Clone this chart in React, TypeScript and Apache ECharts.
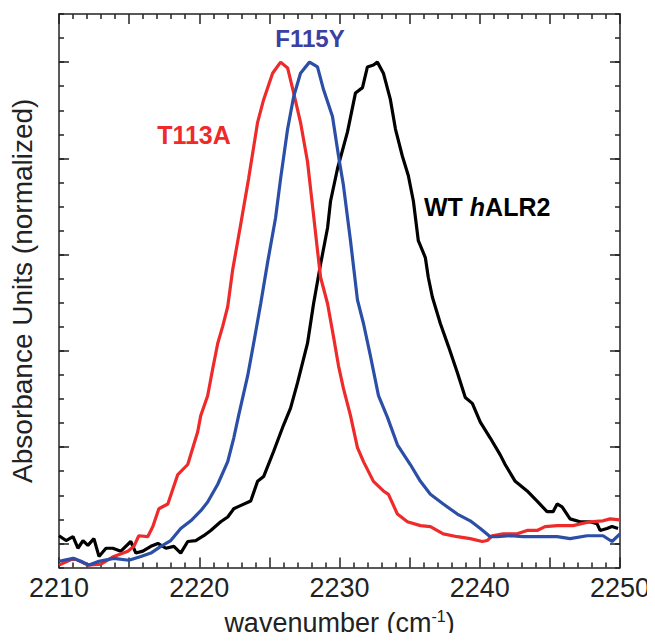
import React, { useEffect, useRef } from "react";
import * as echarts from "echarts";

// ---- Data ----
const xTickLabels = [2210, 2220, 2230, 2240, 2250];
const yMajorTicks = [0, 0.2, 0.4, 0.6, 0.8, 1.0];

const t113aWavenumber = [2210.0, 2211.07, 2212.06, 2212.99, 2213.91, 2214.91, 2215.34, 2215.69, 2216.33, 2216.69, 2217.12, 2217.76, 2218.47, 2219.18, 2219.89, 2220.11, 2220.6, 2220.96, 2221.32, 2221.67, 2222.03, 2222.38, 2222.95, 2223.52, 2224.16, 2224.59, 2225.23, 2225.8, 2226.3, 2226.73, 2227.22, 2227.72, 2228.15, 2228.43, 2228.65, 2229.15, 2229.57, 2229.93, 2230.28, 2230.78, 2231.28, 2231.71, 2232.42, 2233.13, 2233.49, 2234.13, 2234.84, 2235.77, 2236.48, 2237.4, 2238.4, 2239.32, 2240.18, 2240.53, 2240.89, 2241.67, 2242.67, 2243.38, 2244.09, 2244.66, 2245.52, 2246.65, 2247.86, 2248.79, 2249.29, 2250.0];
const t113aAbsorbance = [-0.045, -0.031, -0.045, -0.043, -0.027, -0.016, -0.006, 0.016, 0.014, 0.035, 0.072, 0.082, 0.143, 0.164, 0.232, 0.266, 0.307, 0.363, 0.416, 0.451, 0.492, 0.568, 0.662, 0.758, 0.875, 0.922, 0.977, 1.0, 0.988, 0.936, 0.875, 0.793, 0.682, 0.609, 0.553, 0.498, 0.43, 0.369, 0.322, 0.266, 0.199, 0.17, 0.129, 0.109, 0.102, 0.061, 0.045, 0.037, 0.035, 0.02, 0.014, 0.01, 0.004, 0.006, 0.016, 0.02, 0.02, 0.027, 0.027, 0.035, 0.037, 0.037, 0.045, 0.047, 0.051, 0.049];

const f115yWavenumber = [2210.0, 2211.0, 2211.57, 2212.14, 2212.85, 2213.91, 2214.98, 2215.84, 2216.55, 2217.26, 2217.97, 2218.68, 2219.4, 2220.11, 2220.6, 2221.32, 2222.03, 2222.46, 2222.81, 2223.45, 2223.88, 2224.38, 2224.88, 2225.44, 2225.8, 2226.3, 2226.73, 2227.22, 2227.86, 2228.43, 2228.86, 2229.5, 2229.93, 2230.28, 2230.78, 2231.28, 2231.71, 2232.21, 2232.78, 2233.42, 2234.13, 2235.05, 2235.77, 2236.48, 2237.4, 2238.4, 2239.32, 2240.04, 2240.75, 2241.25, 2242.17, 2243.1, 2244.09, 2245.52, 2246.44, 2247.65, 2248.79, 2249.43, 2250.0];
const f115yAbsorbance = [-0.037, -0.031, -0.037, -0.045, -0.037, -0.031, -0.035, -0.027, -0.02, -0.006, 0.006, 0.031, 0.047, 0.068, 0.086, 0.123, 0.17, 0.219, 0.266, 0.348, 0.416, 0.498, 0.585, 0.676, 0.758, 0.861, 0.928, 0.977, 1.0, 0.99, 0.943, 0.887, 0.805, 0.744, 0.63, 0.506, 0.457, 0.389, 0.307, 0.262, 0.205, 0.164, 0.129, 0.102, 0.082, 0.061, 0.047, 0.031, 0.014, 0.014, 0.016, 0.014, 0.014, 0.014, 0.01, 0.016, 0.016, 0.004, 0.02];

const wtWavenumber = [2210.0, 2210.5, 2211.0, 2211.35, 2211.71, 2212.06, 2212.49, 2212.85, 2213.35, 2213.84, 2214.41, 2215.12, 2215.48, 2215.98, 2216.55, 2217.05, 2217.62, 2218.19, 2218.68, 2219.18, 2219.75, 2220.32, 2220.82, 2221.53, 2222.03, 2222.46, 2222.74, 2223.67, 2224.16, 2224.59, 2225.3, 2226.01, 2226.51, 2227.01, 2227.72, 2228.15, 2228.65, 2229.15, 2229.36, 2229.86, 2230.57, 2231.14, 2231.64, 2231.99, 2232.42, 2232.7, 2233.13, 2233.63, 2233.99, 2234.48, 2234.91, 2235.27, 2235.62, 2236.12, 2236.33, 2236.62, 2237.19, 2237.76, 2238.4, 2238.97, 2239.47, 2240.04, 2240.75, 2241.46, 2241.81, 2242.53, 2243.38, 2244.09, 2244.8, 2245.23, 2245.52, 2245.87, 2246.44, 2247.15, 2247.86, 2248.36, 2248.58, 2249.07, 2249.43, 2249.86];
const wtAbsorbance = [0.016, 0.006, 0.014, -0.01, 0.006, -0.004, 0.01, -0.027, -0.01, -0.01, -0.016, 0.004, -0.02, -0.016, -0.006, 0.0, -0.01, -0.006, -0.02, 0.004, 0.006, 0.016, 0.027, 0.045, 0.055, 0.072, 0.076, 0.088, 0.129, 0.139, 0.191, 0.246, 0.281, 0.334, 0.416, 0.498, 0.58, 0.656, 0.711, 0.779, 0.855, 0.936, 0.947, 0.99, 0.994, 1.0, 0.977, 0.922, 0.861, 0.805, 0.764, 0.711, 0.629, 0.594, 0.553, 0.512, 0.457, 0.41, 0.355, 0.303, 0.291, 0.252, 0.219, 0.184, 0.164, 0.129, 0.109, 0.088, 0.066, 0.066, 0.082, 0.076, 0.051, 0.045, 0.045, 0.041, 0.027, 0.031, 0.035, 0.031];

const seriesNames = ["T113A", "F115Y", "WT hALR2"];

const zip = (xs: number[], ys: number[]) => xs.map((x, i) => [x, ys[i]]);

const RED = "#ee2a2b";
const BLUE = "#2b4ea6";
const BLACK = "#000000";
const FONT = "'Liberation Sans', Arial, Helvetica, sans-serif";

export default function App() {
  const ref = useRef<HTMLDivElement>(null);

  useEffect(() => {
    if (!ref.current) return;
    const chart = echarts.init(ref.current, undefined, { renderer: "svg" });

    const xBase = {
      type: "value" as const,
      min: 2210,
      max: 2250,
      interval: 5,
      splitLine: { show: false },
      axisLine: { show: true, onZero: false, lineStyle: { color: "#222", width: 1.5 } },
      axisTick: { show: true, inside: true, length: 10, lineStyle: { color: "#222", width: 1.5 } },
      minorTick: { show: true, splitNumber: 5, length: 5, lineStyle: { color: "#222", width: 1.5 } },
    };
    const yMinor = {
      type: "value" as const,
      min: -0.05,
      max: 1.1,
      interval: 0.05,
      splitLine: { show: false },
      axisLabel: { show: false },
      axisLine: { show: true, onZero: false, lineStyle: { color: "#222", width: 1.5 } },
      axisTick: { show: true, inside: true, length: 5, lineStyle: { color: "#222", width: 1.5 } },
    };
    const yMajor = {
      type: "value" as const,
      min: -0.05,
      max: 1.1,
      splitLine: { show: false },
      axisLabel: { show: false },
      axisLine: { show: false },
      axisTick: { show: true, inside: true, length: 10, customValues: yMajorTicks, lineStyle: { color: "#222", width: 1.5 } },
    };

    const option: any = {
      animation: false,
      backgroundColor: "#fff",
      grid: { left: 58, top: 14, width: 562, height: 559, containLabel: false },
      xAxis: [
        {
          ...xBase,
          position: "bottom",
          name: "wavenumber (cm{sup|-1})",
          nameLocation: "middle",
          nameGap: 41,
          nameTextStyle: {
            fontFamily: FONT,
            fontSize: 27,
            color: "#222",
            rich: { sup: { fontFamily: FONT, fontSize: 16, color: "#222", verticalAlign: "top", padding: [0, 0, 12, 0] } },
          },
          axisLabel: {
            show: true,
            margin: 7,
            fontFamily: FONT,
            fontSize: 27,
            color: "#222",
            formatter: (v: number) => (xTickLabels.includes(v) ? String(v) : ""),
          },
        },
        { ...xBase, position: "top", axisLabel: { show: false } },
      ],
      yAxis: [
        {
          ...yMinor,
          position: "left",
          name: "Absorbance Units (normalized)",
          nameLocation: "middle",
          nameGap: 23,
          nameTextStyle: { fontFamily: FONT, fontSize: 28, color: "#222" },
        },
        { ...yMinor, position: "right" },
        { ...yMajor, position: "left" },
        { ...yMajor, position: "right" },
      ],
      series: [
        {
          name: seriesNames[0],
          type: "line",
          data: zip(t113aWavenumber, t113aAbsorbance),
          showSymbol: false,
          lineStyle: { color: RED, width: 3.2 },
          z: 3,
        },
        {
          name: seriesNames[1],
          type: "line",
          data: zip(f115yWavenumber, f115yAbsorbance),
          showSymbol: false,
          lineStyle: { color: BLUE, width: 3.2 },
          z: 4,
        },
        {
          name: seriesNames[2],
          type: "line",
          data: zip(wtWavenumber, wtAbsorbance),
          showSymbol: false,
          lineStyle: { color: BLACK, width: 3.2 },
          z: 2,
        },
      ],
      graphic: [
        {
          type: "text",
          x: 194,
          y: 135,
          style: {
            text: "T113A",
            fill: RED,
            font: `bold 25px ${FONT}`,
            align: "center",
            verticalAlign: "middle",
          },
        },
        {
          type: "text",
          x: 310,
          y: 38,
          style: {
            text: "F115Y",
            fill: "#3a40a4",
            font: `bold 24px ${FONT}`,
            align: "center",
            verticalAlign: "middle",
          },
        },
        {
          type: "text",
          x: 424,
          y: 207,
          style: {
            text: "{b|WT }{i|h}{b|ALR2}",
            fill: BLACK,
            align: "left",
            verticalAlign: "middle",
            rich: {
              b: { fontFamily: FONT, fontWeight: "bold", fontSize: 25, fill: BLACK },
              i: { fontFamily: FONT, fontWeight: "bold", fontStyle: "italic", fontSize: 25, fill: BLACK },
            },
          },
        },
      ],
    };

    chart.setOption(option);
    return () => chart.dispose();
  }, []);

  return <div ref={ref} style={{ width: 655, height: 641, margin: -8 }} />;
}
